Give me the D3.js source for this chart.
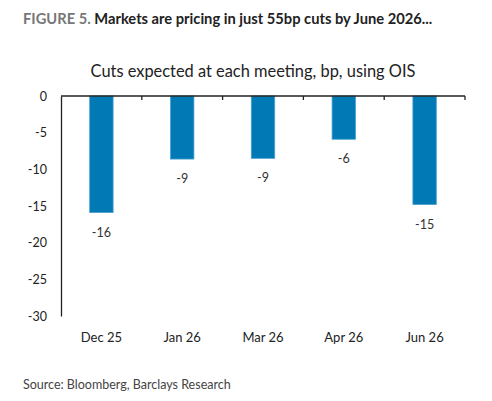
<!DOCTYPE html>
<html>
<head>
<meta charset="utf-8">
<script src="https://cdn.jsdelivr.net/npm/d3@7"></script>
<style>
  body { margin: 0; background: #fff; }
  text { font-family: "Source Sans Pro", Lato, "Noto Sans", sans-serif; }
</style>
</head>
<body>
<svg id="chart"></svg>
<script>
// meetings and cuts priced in (bp)
var meetings = ["Dec 25", "Jan 26", "Mar 26", "Apr 26", "Jun 26"]
var cuts = [-15.9, -8.6, -8.5, -5.9, -14.8]
var yTicks = [0, -5, -10, -15, -20, -25, -30]

var figureLabel = "FIGURE 5."
var headline = "Markets are pricing in just 55bp cuts by June 2026..."
var subtitle = "Cuts expected at each meeting, bp, using OIS"
var source = "Source: Bloomberg, Barclays Research"

// plain hyphen for negatives, like the original
var locale = d3.formatLocale({decimal:".", thousands:",", grouping:[3], currency:["$",""], minus:"-"})
var fmt = locale.format(".0f")

var drawChart = function(target)
{
    var screen = {width:492, height:401}
    var margins = {top:96, left:61, right:27, bottom:85}
    var graph = {
        width:screen.width-margins.left-margins.right,
        height:screen.height-margins.top-margins.bottom
    }

    var svg = d3.select(target)
        .attr("width", screen.width)
        .attr("height", screen.height)

    // heading
    var head = svg.append("text")
        .attr("x", 23)
        .attr("y", 24)
        .attr("font-size", 14.7)
        .attr("font-weight", "bold")
    head.append("tspan").attr("fill", "#777").text(figureLabel)
    head.append("tspan").attr("fill", "#222").text(" " + headline)

    svg.append("text")
        .attr("x", 253)
        .attr("y", 77)
        .attr("text-anchor", "middle")
        .attr("font-size", 16.4)
        .attr("fill", "#222")
        .text(subtitle)

    svg.append("text")
        .attr("x", 23)
        .attr("y", 389)
        .attr("font-size", 12.5)
        .attr("fill", "#444")
        .text(source)

    var g = svg.append("g")
        .attr("transform", "translate(" + margins.left + "," + margins.top + ")")

    var xScale = d3.scaleBand()
        .domain(meetings)
        .range([0, graph.width])
        .paddingInner(0.71)
        .paddingOuter(0.355)

    var yScale = d3.scaleLinear()
        .domain([0, -30])
        .range([0, graph.height])

    // bars
    g.selectAll("rect.bar")
        .data(cuts)
        .enter()
        .append("rect")
        .classed("bar", true)
        .attr("x", function(d, i) { return xScale(meetings[i]) })
        .attr("y", yScale(0))
        .attr("width", xScale.bandwidth())
        .attr("height", function(d) { return yScale(d) - yScale(0) })
        .attr("fill", "#0079b5")
        .attr("stroke", "#4aa2d3")
        .attr("stroke-width", 0.8)

    // value labels
    g.selectAll("text.value")
        .data(cuts)
        .enter()
        .append("text")
        .classed("value", true)
        .attr("x", function(d, i) { return xScale(meetings[i]) + xScale.bandwidth()/2 })
        .attr("y", function(d) { return yScale(d) + 24 })
        .attr("text-anchor", "middle")
        .attr("font-size", 12.5)
        .attr("fill", "#333")
        .text(fmt)

    // y axis
    var yAxis = d3.axisLeft(yScale)
        .tickValues(yTicks)
        .tickSize(0)
        .tickPadding(14)
        .tickFormat(locale.format("d"))
    var ya = g.append("g").call(yAxis)
    ya.select(".domain").attr("stroke", "#222").attr("stroke-width", 1.3)
    ya.selectAll("text")
        .attr("font-size", 12.5)
        .attr("fill", "#222")
        .attr("font-family", null)

    // x axis along zero, ticks between categories
    var xa = g.append("g")
    xa.append("line")
        .attr("x1", 0).attr("x2", graph.width)
        .attr("y1", yScale(0)).attr("y2", yScale(0))
        .attr("stroke", "#222")
        .attr("stroke-width", 1.3)
    var step = xScale.step()
    var bounds = d3.range(meetings.length + 1).map(function(i) { return i * step })
    xa.selectAll("line.tick")
        .data(bounds.slice(1))
        .enter()
        .append("line")
        .classed("tick", true)
        .attr("x1", function(d) { return d }).attr("x2", function(d) { return d })
        .attr("y1", yScale(0)).attr("y2", yScale(0) + 4)
        .attr("stroke", "#222")
        .attr("stroke-width", 1.3)

    // category labels under the plot
    g.selectAll("text.cat")
        .data(meetings)
        .enter()
        .append("text")
        .classed("cat", true)
        .attr("x", function(d) { return xScale(d) + xScale.bandwidth()/2 })
        .attr("y", graph.height + 26)
        .attr("text-anchor", "middle")
        .attr("font-size", 13)
        .attr("fill", "#222")
        .text(function(d) { return d })
}

drawChart("#chart")
</script>
</body>
</html>
